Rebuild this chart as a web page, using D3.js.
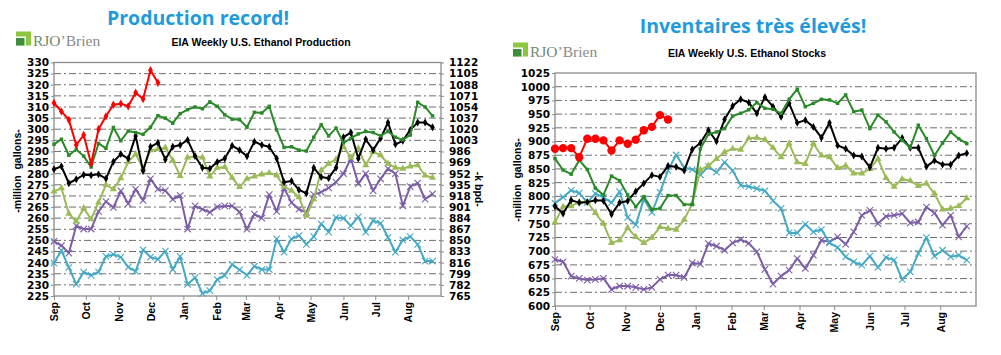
<!DOCTYPE html>
<html><head><meta charset="utf-8">
<script src="https://cdn.jsdelivr.net/npm/d3@7"></script>
<style>body{margin:0;background:#fff}svg{display:block}</style>
</head><body>
<svg id="c" width="1001" height="355"></svg>
<script>
// ---------- DATA ----------
const months = ["Sep","Oct","Nov","Dec","Jan","Feb","Mar","Apr","May","Jun","Jul","Aug"];
const prodTicksLeft = d3.range(225, 331, 5);          // million gallons
const prodTicksRight = d3.range(765, 1123, 17);       // k bpd
const stockTicks = d3.range(600, 1026, 25);

// Weekly ethanol production (million gallons), one value per week starting in September
const prodRed = [311.8,308,304.2,292.9,297.4,284.5,300,305.8,311,311.5,310.3,316.4,313.6,326.5,320.9];
const prodGreen = [293.2,295.5,288.3,290.9,287.9,283,293.6,291.4,300.8,294.8,299.2,298.5,297.7,300.9,306.1,305,302.7,307,308.8,310,309.2,312.3,310.3,306.5,304.5,304.3,300.9,307.6,307.3,310.3,299.7,291.8,292.1,290.6,290.2,296.4,302,297,300.5,293.9,295.9,297.9,299,298.5,297,299,296.4,295.2,297.4,312.1,310,306];
const prodBlack = [282,283.3,275.7,277.5,279.5,279.3,279.7,277.8,285.4,288.8,286.8,297,281.2,292.1,293.9,286.4,292.1,292.9,295.2,287.9,282.7,282.3,285.3,286.8,292.6,290.6,287.8,294.4,292.9,292.1,286.8,276.2,276.7,272.7,271.2,282.7,278.5,278,282.7,296.4,298.5,286.8,295.5,290.6,295.9,303,293.2,294.8,299.7,303,303,300.9];
const prodOlive = [272,273.5,262,258.5,264.5,259.5,267,275,273,278,285.3,288.8,282.3,290.6,291,291.7,286,279,287.3,287.9,287.3,278.8,282.7,283,278.2,274,277.7,278.8,279.7,280.3,279.2,274.2,272.4,269.4,261.1,268.5,281.5,284.5,286.4,292.1,287.3,291.4,283.8,289.8,288.3,284.5,282.7,282.3,283.3,283.8,279.2,278.2];
const prodPurple = [249.6,247.7,244.3,256.6,255.1,255.1,263,267.5,264.8,272.3,266.5,273,268,277.7,273,272.4,268.5,270.2,255.1,265.5,264,262.6,265.1,265.5,265.5,262.8,255,261.8,260,270.6,263,273.5,267,264,262.6,270.6,271.7,273.6,276.2,280,286.8,275.5,280,272.4,277.7,282.3,280,265.5,274.2,275.8,268.5,270.9];
const prodCyan = [239.8,245.5,237.8,230.3,235.8,234.3,235.8,242.8,243.7,242.5,238,236.1,245.8,242.5,241.5,245.2,236.9,242.8,230.2,233.3,226.2,227.4,232.4,234.3,239.2,236.8,234.3,238.4,236.9,236.9,250.7,244.7,250.7,252.2,248.2,251.7,257.4,253.7,260.3,260,256.6,260.6,253.7,258.9,257.7,251.4,244.7,250.2,251.7,248.2,240.7,240.7];

// Weekly ethanol stocks (million gallons)
const stockRed = [886.8,888,888,871.4,905.2,905.2,902.1,883.7,902.1,896,903.4,920.6,926.7,948.2,940.2];
const stockBlack = [782,768.6,793,788.5,789.5,793,791.8,767.4,788.5,791.7,809,823.7,838.7,835.5,855.4,853.8,847.1,885.5,897.2,920.6,900.3,940.2,964.8,977.1,971,951.3,980.8,963.6,945.1,969.7,934.1,939,926.7,907,934.1,892.9,886.8,874.5,872.7,853,888.6,886.8,888.6,906.4,888.6,888.6,854.2,865.3,857.9,857.9,874.5,878.8];
const stockGreen = [868.9,848,840.5,866,849,815,802.5,837,828.7,802.5,781,799.5,776.3,778,801.5,801.5,785,785,886.8,913.2,917.5,923.6,946.4,951.5,958,971,960.5,958.7,951.3,977.1,995.5,963.6,969.7,977.1,975.9,969.7,985,954.4,957.4,923.6,948.2,935.9,917.5,902.1,888.6,929.8,905.2,874.5,897.2,917.5,905.2,896];
const stockOlive = [752.5,781,782,789.5,790,769.7,750.3,715.2,720,742.4,726.1,715.2,724.8,744.2,741.2,739.4,757.6,786.7,848.1,856.1,868.4,880.7,886.8,885,906,907,903.4,888.6,871.4,896,862.2,859.1,896,874.5,871.4,851.8,856.1,842,842,850,868.4,833.4,817.4,831.5,828.4,819.2,823.5,805.1,776.2,778,782.4,796.5];
const stockPurple = [684.8,680.6,654.5,650.3,647.3,648.5,650.3,630.3,636.4,636.4,634,630.3,634,648.5,656.4,656.4,652.1,678.8,676.4,713.9,709.1,701.8,715.2,721.2,714.5,698.8,666.7,640,654.5,665.5,686.7,668.5,692.7,720,717,726.1,712.7,735.2,765.5,774.5,750.3,763.6,765.5,768.5,751.5,753.3,780.6,769.7,747.3,765.5,726.1,745.5];
const stockCyan = [787.5,798.5,811,806,789,805,798,788.5,808.5,761.4,748,795,770.6,807.5,847.4,875.5,852.5,849,839.5,854.2,843.9,862.2,846.9,820,818,814,810,792,778,733.3,733.3,749.1,735.2,739.4,715.2,706.7,689.7,680.6,674.5,690.9,670.3,688.5,683.6,648.5,662.4,695.8,724.8,690.9,701.8,689.7,692.7,683.6];

// ---------- DRAWING ----------
const svg = d3.select("#c");
const seasonStart = new Date(2012, 8, 1), seasonEnd = new Date(2013, 8, 1);
const weekDate = i => d3.timeDay.offset(seasonStart, 7 * i);
const monthDates = d3.timeMonth.range(seasonStart, seasonEnd);

const C = {red:"#ff0000", green:"#2a8a2a", black:"#000000", olive:"#9bbb59", purple:"#7b5ea7", cyan:"#45a9c4"};

function drawMarker(g, type, color, size) {
  if (type === "x") {
    g.append("path").attr("d", `M${-size},${-size}L${size},${size}M${-size},${size}L${size},${-size}`)
      .attr("stroke", color).attr("stroke-width", 1.1).attr("fill", "none");
  } else if (type === "circle") {
    g.append("circle").attr("r", size).attr("fill", color);
  } else {
    const sym = {diamond: d3.symbolDiamond, square: d3.symbolSquare, triangle: d3.symbolTriangle}[type];
    g.append("path").attr("d", d3.symbol(sym, size)()).attr("fill", color);
  }
}

function chart(cfg) {
  const g = svg.append("g");
  const x = d3.scaleTime().domain([seasonStart, seasonEnd]).range([cfg.x0, cfg.x1]);
  const y = d3.scaleLinear().domain(cfg.yDomain).range([cfg.yBot, cfg.yTop]);

  // gridlines
  g.append("g").selectAll("line").data(cfg.yTicks.slice(1, -1)).join("line")
    .attr("x1", cfg.x0).attr("x2", cfg.x1).attr("y1", d => y(d)).attr("y2", d => y(d))
    .attr("stroke", "#6e6e6e").attr("stroke-width", 1).attr("stroke-dasharray", "7,3,2,3");

  // frame
  g.append("rect").attr("x", cfg.x0).attr("y", cfg.yTop).attr("width", cfg.x1 - cfg.x0).attr("height", cfg.yBot - cfg.yTop)
    .attr("fill", "none").attr("stroke", "#8c8c8c").attr("stroke-width", 1.3);

  const fontY = g => g.selectAll("text").attr("font-family", "DejaVu Sans").attr("font-weight", "bold").attr("font-size", "10.5px").attr("fill", "#000");

  // left axis
  g.append("g").attr("transform", `translate(${cfg.x0},0)`)
    .call(d3.axisLeft(y).tickValues(cfg.yTicks).tickSize(3).tickPadding(2).tickFormat(d3.format("d")))
    .call(a => a.select(".domain").remove())
    .call(a => a.selectAll("line").attr("stroke", "#8c8c8c"))
    .call(fontY);

  // optional right axis
  if (cfg.yRightDomain) {
    const yr = d3.scaleLinear().domain(cfg.yRightDomain).range([cfg.yBot, cfg.yTop]);
    g.append("g").attr("transform", `translate(${cfg.x1},0)`)
      .call(d3.axisRight(yr).tickValues(cfg.yRightTicks).tickSize(3).tickPadding(5).tickFormat(d3.format("d")))
      .call(a => a.select(".domain").remove())
      .call(a => a.selectAll("line").attr("stroke", "#8c8c8c"))
      .call(fontY);
    g.append("text").attr("transform", `translate(${cfg.rightTitleX},${(cfg.yTop + cfg.yBot) / 2 + 10}) rotate(90)`)
      .attr("text-anchor", "middle").attr("font-family", "Liberation Sans").attr("font-weight", "bold")
      .attr("font-size", "10.5px").text(cfg.rightTitle);
  }

  // x axis
  g.append("g").attr("transform", `translate(0,${cfg.yBot})`)
    .call(d3.axisBottom(x).tickValues(monthDates).tickSize(4).tickFormat((d, i) => months[i]))
    .call(a => a.select(".domain").remove())
    .call(a => a.selectAll("line").attr("stroke", "#8c8c8c"))
    .call(a => a.selectAll("text").attr("transform", "rotate(-90)").attr("x", -6).attr("y", 0).attr("dy", "0.36em")
      .attr("text-anchor", "end").attr("font-family", "Liberation Sans").attr("font-weight", "bold")
      .attr("font-size", "10.5px").attr("fill", "#000"));

  // left title
  g.append("text").attr("transform", `translate(${cfg.leftTitleX},${cfg.leftTitleY}) rotate(-90)`)
    .attr("text-anchor", "middle").attr("font-family", "Liberation Sans").attr("font-weight", "bold")
    .attr("font-size", "10.5px").attr("xml:space", "preserve").style("white-space", "pre").text("-million  gallons-");

  // series
  const line = d3.line().x((d, i) => x(weekDate(i))).y(d => y(d));
  cfg.series.forEach(s => {
    const sg = g.append("g");
    sg.append("path").attr("d", line(s.values)).attr("fill", "none").attr("stroke", s.color)
      .attr("stroke-width", s.width || 2).attr("stroke-linejoin", "round");
    s.values.forEach((v, i) => {
      const m = sg.append("g").attr("transform", `translate(${x(weekDate(i))},${y(v)})`);
      drawMarker(m, s.marker, s.color, s.size);
    });
  });
}

function logo(x, yBase) {
  const g = svg.append("g").attr("transform", `translate(${x},${yBase})`);
  g.append("rect").attr("x", 0).attr("y", -14).attr("width", 15).attr("height", 14).attr("fill", "#8dc63f");
  g.append("rect").attr("x", 0).attr("y", -9).attr("width", 10).attr("height", 9).attr("fill", "#ffffff");
  g.append("rect").attr("x", 0).attr("y", -7.5).attr("width", 8.5).attr("height", 7.5).attr("fill", "#3f8f3a");
  const t = g.append("text").attr("x", 17).attr("y", 0).attr("font-family", "Liberation Serif").attr("font-size", "15.5px");
  t.append("tspan").attr("fill", "#6f8a72").text("RJO");
  t.append("tspan").attr("fill", "#8a8a8a").text("\u2019Brien");
}

// Titles
svg.append("text").attr("x", 198).attr("y", 25).attr("text-anchor", "middle").attr("font-family", "Open Sans")
  .attr("font-weight", "bold").attr("font-size", "19.5px").attr("fill", "#1f9bdc").text("Production record!");
svg.append("text").attr("x", 753).attr("y", 32.5).attr("text-anchor", "middle").attr("font-family", "Open Sans")
  .attr("font-weight", "bold").attr("font-size", "19.5px").attr("fill", "#1f9bdc").text("Inventaires très élevés!");
svg.append("text").attr("x", 261).attr("y", 46).attr("text-anchor", "middle").attr("font-family", "Liberation Sans")
  .attr("font-weight", "bold").attr("font-size", "10.5px").text("EIA Weekly U.S. Ethanol Production");
svg.append("text").attr("x", 747).attr("y", 56.5).attr("text-anchor", "middle").attr("font-family", "Liberation Sans")
  .attr("font-weight", "bold").attr("font-size", "10.5px").text("EIA Weekly U.S. Ethanol Stocks");
logo(16, 45.5);
logo(513, 56.5);

chart({
  x0: 54, x1: 441, yTop: 62.5, yBot: 296, yDomain: [225, 330], yTicks: prodTicksLeft,
  yRightDomain: [765, 1122], yRightTicks: prodTicksRight, rightTitle: "-k bpd-", rightTitleX: 475,
  leftTitleX: 20.5, leftTitleY: 171,
  series: [
    {values: prodCyan, color: C.cyan, marker: "x", size: 3.2},
    {values: prodPurple, color: C.purple, marker: "x", size: 3.2},
    {values: prodOlive, color: C.olive, marker: "triangle", size: 22},
    {values: prodBlack, color: C.black, marker: "diamond", size: 18},
    {values: prodGreen, color: C.green, marker: "square", size: 12},
    {values: prodRed, color: C.red, marker: "diamond", size: 20}
  ]
});

chart({
  x0: 555, x1: 976, yTop: 73, yBot: 306, yDomain: [600, 1025], yTicks: stockTicks,
  leftTitleX: 520.5, leftTitleY: 180,
  series: [
    {values: stockPurple, color: C.purple, marker: "x", size: 3.2},
    {values: stockCyan, color: C.cyan, marker: "x", size: 3.2},
    {values: stockOlive, color: C.olive, marker: "triangle", size: 22},
    {values: stockBlack, color: C.black, marker: "diamond", size: 18},
    {values: stockGreen, color: C.green, marker: "square", size: 12},
    {values: stockRed, color: C.red, marker: "circle", size: 4.2}
  ]
});
</script>
</body></html>
